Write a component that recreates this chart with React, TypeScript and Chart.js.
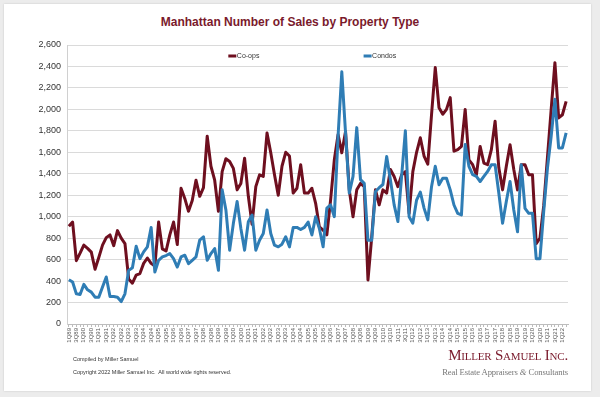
import React, { useEffect, useRef } from "react";
import { Chart, registerables } from "chart.js";

Chart.register(...registerables);

// Quarters 1Q89 .. 2Q22
const startYear = 1989;
const quarterCount = 134;
const quarterLabels: string[] = [];
for (let i = 0; i < quarterCount; i++) {
  const y = startYear + Math.floor(i / 4);
  quarterLabels.push(`${(i % 4) + 1}Q${String(y % 100).padStart(2, "0")}`);
}

const coops = [
  910, 950, 590, 660, 735, 705, 670, 510, 620, 735,
  805, 830, 730, 870, 800, 750, 420, 380, 455, 470,
  565, 615, 565, 540, 950, 700, 680, 830, 950, 740,
  1265, 1170, 1050, 1150, 1340, 1190, 1270, 1750, 1470, 1340,
  1050, 1420, 1540, 1515, 1450, 1250, 1310, 1545, 1190, 930,
  1280, 1390, 1375, 1780, 1595, 1390, 1200, 1470, 1600, 1565,
  1220, 1265, 1485, 1220, 1220, 1265, 1125, 905, 875, 830,
  1155, 1530, 1765, 1595, 1795, 1250, 1000, 1250, 1310, 1280,
  410, 810, 1250, 1110, 1250, 1220, 1440, 1375, 1280, 1390,
  1420, 1030, 1420, 1600, 1735, 1565, 1490, 1950, 2390, 2015,
  1955, 2000, 2110, 1610, 1625, 1655, 2000, 1530, 1485, 1390,
  1655, 1500, 1485, 1625, 1890, 1455, 1250, 1470, 1670, 1440,
  1250, 1485, 1485, 1390, 1390, 750, 800, 1100, 1550, 2000,
  2435, 1920, 1950, 2075,
];

const condos = [
  413, 391, 281, 275, 369, 319, 297, 250, 250, 344,
  438, 256, 256, 250, 209, 281, 500, 525, 725, 609,
  672, 719, 900, 484, 594, 625, 638, 656, 609, 531,
  625, 641, 563, 594, 625, 781, 813, 594, 656, 703,
  500, 1250, 1063, 688, 938, 1141, 891, 688, 953, 1016,
  688, 781, 844, 1063, 844, 734, 719, 744, 813, 719,
  900, 900, 880, 900, 950, 830, 1000, 890, 720, 1080,
  1110, 1000, 1750, 2350, 1780, 1220, 1375, 1830, 1345, 1310,
  780, 780, 1235, 1270, 1300, 1560, 1345, 1110, 955, 1375,
  1800, 1000, 940, 1155, 1230, 1080, 970, 1280, 1470, 1297,
  1359, 1359, 1250, 1109, 1031, 1016, 1672, 1469, 1391, 1375,
  1328, 1375, 1422, 1484, 1484, 1219, 938, 1141, 1328, 1063,
  859, 1484, 1078, 1031, 1031, 609, 609, 1047, 1450, 1750,
  2094, 1641, 1641, 1781,
];

const seriesNames = ["Co-ops", "Condos"];
const yTicksMax = 2600;
const yStep = 200;

const COOP = "#6e0f1f";
const CONDO = "#2f7db5";
const FONT = "'Liberation Sans', Arial, sans-serif";
const SERIF = "'Liberation Serif', 'DejaVu Serif', serif";

const insideLegend = {
  id: "insideLegend",
  afterDraw(chart: any) {
    const { ctx, chartArea } = chart;
    const w = chartArea.right - chartArea.left;
    const items = [
      { label: seriesNames[0], color: COOP, fx: 0.322 },
      { label: seriesNames[1], color: CONDO, fx: 0.592 },
    ];
    const y = chartArea.top + 11;
    ctx.save();
    ctx.font = `7px ${FONT}`;
    ctx.textBaseline = "middle";
    items.forEach((it) => {
      const x = chartArea.left + it.fx * w;
      ctx.fillStyle = it.color;
      ctx.fillRect(x, y - 1.5, 8, 3);
      ctx.fillStyle = "#333";
      ctx.fillText(it.label, x + 8.5, y + 0.5);
    });
    ctx.restore();
  },
};

function App() {
  const canvasRef = useRef<HTMLCanvasElement | null>(null);

  useEffect(() => {
    if (!canvasRef.current) return;
    const chart = new Chart(canvasRef.current, {
      type: "line",
      data: {
        labels: quarterLabels,
        datasets: [
          {
            label: seriesNames[1],
            data: condos,
            borderColor: CONDO,
            backgroundColor: CONDO,
            borderWidth: 3,
            pointRadius: 0,
            tension: 0,
            borderJoinStyle: "round",
          },
          {
            label: seriesNames[0],
            data: coops,
            borderColor: COOP,
            backgroundColor: COOP,
            borderWidth: 3,
            pointRadius: 0,
            tension: 0,
            borderJoinStyle: "round",
          },
        ],
      },
      options: {
        animation: false,
        responsive: false,
        maintainAspectRatio: false,
        layout: { padding: { left: 0, right: 32, top: 45, bottom: 53 } },
        plugins: {
          legend: { display: false },
          title: { display: false },
          tooltip: { enabled: false },
        },
        scales: {
          x: {
            type: "category",
            offset: true,
            grid: {
              display: true,
              drawOnChartArea: false,
              drawTicks: true,
              tickLength: 3,
              color: "#bdbdbd",
            },
            border: { display: true, color: "#bdbdbd" },
            ticks: {
              autoSkip: false,
              maxRotation: 90,
              minRotation: 90,
              padding: 1,
              color: "#555",
              font: { family: FONT, size: 6 },
              callback: (_v: any, idx: number) => (idx % 2 === 0 ? quarterLabels[idx] : ""),
            },
            afterFit: (s: any) => {
              s.height = 20;
            },
          },
          y: {
            min: 0,
            max: yTicksMax,
            grid: { color: "#dadada", drawTicks: false, lineWidth: 1 },
            border: { display: true, color: "#d0d0d0" },
            ticks: {
              stepSize: yStep,
              padding: 6,
              color: "#333",
              font: { family: FONT, size: 9 },
              callback: (v: any) => Number(v).toLocaleString("en-US"),
            },
            afterFit: (s: any) => {
              s.width = 67;
            },
          },
        },
      },
      plugins: [insideLegend],
    });
    return () => chart.destroy();
  }, []);

  return (
    <div
      style={{
        position: "fixed",
        left: 0,
        top: 0,
        width: 600,
        height: 397,
        background: "#ececec",
        overflow: "hidden",
        fontFamily: FONT,
      }}
    >
      <div
        style={{
          position: "absolute",
          left: 4,
          top: 4,
          width: 587,
          height: 387,
          background: "#ffffff",
          boxShadow: "0 0 2px rgba(0,0,0,0.15)",
        }}
      />
      <div
        style={{
          position: "absolute",
          left: 0,
          top: 15,
          width: 580,
          textAlign: "center",
          fontSize: 12,
          fontWeight: "bold",
          color: "#7a1a2c",
        }}
      >
        Manhattan Number of Sales by Property Type
      </div>
      <canvas
        ref={canvasRef}
        width={600}
        height={397}
        style={{ position: "absolute", left: 0, top: 0, width: 600, height: 397 }}
      />
      <div
        style={{
          position: "absolute",
          left: 73,
          top: 353,
          fontSize: 5.5,
          lineHeight: "13px",
          color: "#333",
        }}
      >
        <div>Compiled by Miller Samuel</div>
        <div>Copyright 2022 Miller Samuel Inc.&nbsp; All world wide rights reserved.</div>
      </div>
      <div
        style={{
          position: "absolute",
          right: 32,
          top: 346,
          textAlign: "right",
          fontFamily: SERIF,
          whiteSpace: "nowrap",
        }}
      >
        <div
          style={{
            fontSize: 15,
            fontVariant: "small-caps",
            color: "#7a1a2c",
            lineHeight: "18px",
            letterSpacing: -0.2,
          }}
        >
          Miller Samuel Inc.
        </div>
        <div style={{ fontSize: 8.6, color: "#777", lineHeight: "16px", letterSpacing: -0.1 }}>
          Real Estate Appraisers <i>&amp;</i> Consultants
        </div>
      </div>
    </div>
  );
}

export default App;
